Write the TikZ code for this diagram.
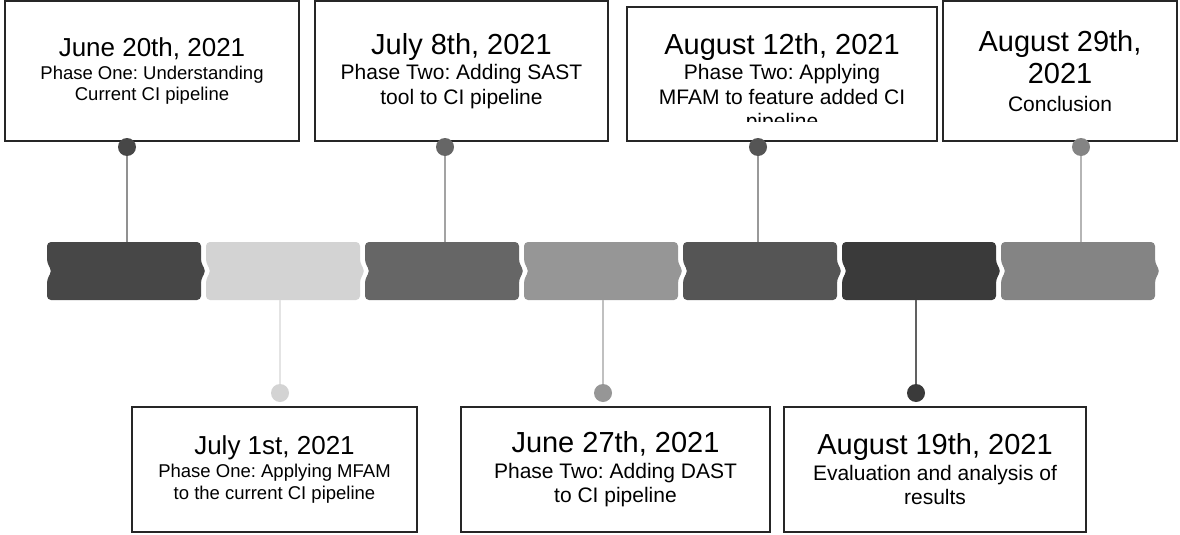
\documentclass[tikz,border=0pt]{standalone}
\usepackage{fontspec}
\setmainfont{Liberation Sans}
\frenchspacing
\definecolor{segA}{HTML}{474747}
\definecolor{segB}{HTML}{D3D3D3}
\definecolor{segC}{HTML}{666666}
\definecolor{segD}{HTML}{969696}
\definecolor{segE}{HTML}{555555}
\definecolor{segF}{HTML}{3A3A3A}
\definecolor{segG}{HTML}{848484}
\newcommand{\smdate}{\fontsize{26}{30}\selectfont}
\newcommand{\bgdate}{\fontsize{29}{33}\selectfont}
\newcommand{\smsub}{\fontsize{18.5}{21.5}\selectfont}
\newcommand{\bgsub}{\fontsize{21}{24.5}\selectfont}
\tikzset{
	tlseg/.pic={
		\path[pic actions, rounded corners=4pt] (0,0) -- (154,0) -- (154,21) -- (159,29) -- (154,37) -- (154,58) -- (0,58) -- (0,37) -- (5,29) -- (0,21) -- cycle;
		\coordinate (-top) at (77,0);
		\coordinate (-bot) at (77,58);
	}
}

\begin{document}
\begin{tikzpicture}[x=1pt, y=-1pt]
		\useasboundingbox (0,0) rectangle (1180,535);
		\pic[fill=segA] (s1) at (47,242) {tlseg};
		\pic[fill=segB] (s2) at (206,242) {tlseg};
		\pic[fill=segC] (s3) at (365,242) {tlseg};
		\pic[fill=segD] (s4) at (524,242) {tlseg};
		\pic[fill=segE] (s5) at (683,242) {tlseg};
		\pic[fill=segF] (s6) at (842,242) {tlseg};
		\pic[fill=segG] (s7) at (1001,242) {tlseg};
		\begin{scope}[every node/.style={draw=black!85, line width=1.5pt, align=center, inner sep=0pt}]
			\node[minimum width=294pt, minimum height=140pt, font=\smsub] (b1) at (152,71)
			{{\smdate June 20th, 2021}\\[1.5pt] Phase One: Understanding\\ Current CI pipeline};
			\node[minimum width=293pt, minimum height=140pt, font=\bgsub] (b2) at (461.5,71)
			{{\bgdate July 8th, 2021}\\[1pt] Phase Two: Adding SAST\\ tool to CI pipeline};
			\node[minimum width=310pt, minimum height=134pt] (b3) at (782,74) {};
			\node[minimum width=234pt, minimum height=140pt, font=\bgsub] (b4) at (1060,71)
			{{\bgdate August 29th,}\\[4pt] {\bgdate 2021}\\[3.5pt] Conclusion};
			\node[minimum width=285pt, minimum height=125pt, font=\smsub] (ba) at (274.5,469.5)
			{{\smdate July 1st, 2021}\\[1.5pt] Phase One: Applying MFAM\\ to the current CI pipeline};
			\node[minimum width=309pt, minimum height=125pt, font=\bgsub] (bb) at (615.5,469.5)
			{{\bgdate June 27th, 2021}\\[1pt] Phase Two: Adding DAST\\ to CI pipeline};
			\node[minimum width=302pt, minimum height=125pt, font=\bgsub] (bc) at (935,469.5)
			{{\bgdate August 19th, 2021}\\[1pt] Evaluation and analysis of\\ results};
		\end{scope}
		\begin{scope}
			\clip (b3.north west) rectangle ([yshift=20pt]b3.south east);
			\node[anchor=north, align=center, inner sep=0pt, font=\bgsub] (b3txt) at (782,33)
			{{\bgdate August 12th, 2021}\\[1pt] Phase Two: Applying\\ MFAM to feature added CI\\ pipeline};
		\end{scope}
		\begin{scope}[every node/.style={circle, minimum size=18pt, inner sep=0pt}]
			\node[fill=segA] (d1) at (127,147) {};
			\node[fill=segC] (d3) at (445,147) {};
			\node[fill=segE] (d5) at (758,147) {};
			\node[fill=segG] (d7) at (1081,147) {};
			\node[fill=segB] (d2) at (280,393) {};
			\node[fill=segD] (d4) at (603,393) {};
			\node[fill=segF] (d6) at (916,393) {};
		\end{scope}
		\begin{scope}[line width=1.6pt]
			\draw[segA!60!white] (d1) -- (d1 |- s1-top);
			\draw[segC!60!white] (d3) -- (d3 |- s3-top);
			\draw[segE!60!white] (d5) -- (d5 |- s5-top);
			\draw[segG!60!white] (d7) -- (d7 |- s7-top);
			\draw[segB!60!white] (d2) -- (d2 |- s2-bot);
			\draw[segD!60!white] (d4) -- (d4 |- s4-bot);
			\draw[segF!80!white] (d6) -- (d6 |- s6-bot);
		\end{scope}
\end{tikzpicture}
\end{document}
